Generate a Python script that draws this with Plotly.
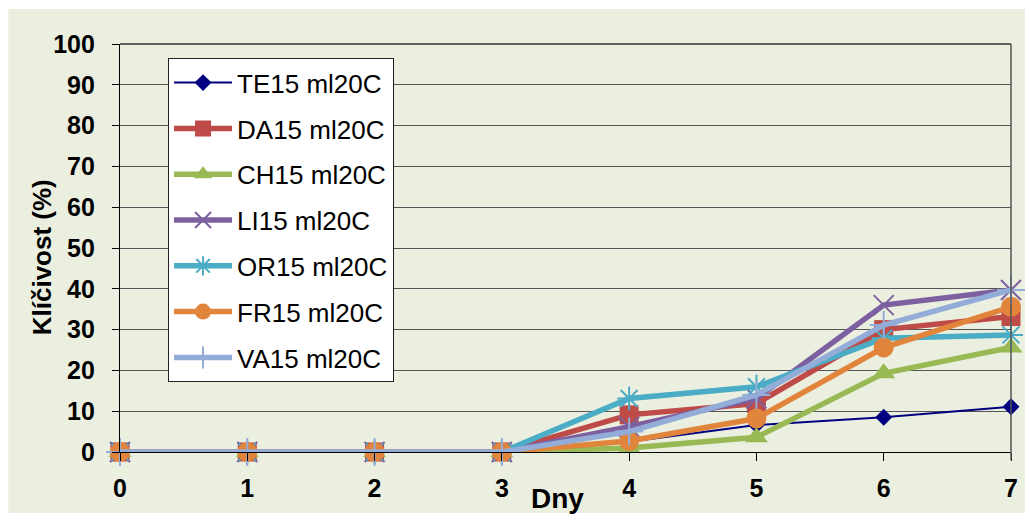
import plotly.graph_objects as go

days = [0, 1, 2, 3, 4, 5, 6, 7]
series_names = ["TE15 ml20C", "DA15 ml20C", "CH15 ml20C", "LI15 ml20C",
                "OR15 ml20C", "FR15 ml20C", "VA15 ml20C"]
te = [0, 0, 0, 0, 2.5, 6.6, 8.5, 11.1]
da = [0, 0, 0, 0, 9.1, 11.9, 30.0, 33.2]
ch = [0, 0, 0, 0, 1.0, 3.6, 19.3, 25.6]
li = [0, 0, 0, 0, 6.2, 13.1, 36.0, 39.7]
orr = [0, 0, 0, 0, 13.1, 16.0, 27.9, 28.7]
fr = [0, 0, 0, 0, 2.7, 8.2, 25.6, 35.6]
va = [0, 0, 0, 0, 5.0, 14.0, 31.1, 39.7]
y_ticks = [0, 10, 20, 30, 40, 50, 60, 70, 80, 90, 100]

values = [te, da, ch, li, orr, fr, va]
colors = ["#000080", "#BE4B48", "#98B954", "#7D60A0", "#4BACC6", "#E2853C", "#93ADD8"]
symbols = ["diamond", "square", "triangle-up", "x-thin-open", "asterisk-open", "circle", "cross-thin-open"]
msizes = [13, 19, 20, 20, 20, 20, 20]
lwidths = [2, 5.5, 5.5, 5.5, 5.5, 5.5, 5.5]

FONT = "Liberation Sans, Arial, sans-serif"

fig = go.Figure()
for i, (name, vals) in enumerate(zip(series_names, values)):
    open_sym = symbols[i].endswith("open")
    fig.add_trace(go.Scatter(
        x=days, y=vals, name=name, mode="lines+markers",
        legendgroup=f"g{i}", cliponaxis=False,
        line=dict(color=colors[i], width=lwidths[i]),
        marker=dict(symbol=symbols[i], size=msizes[i], color=colors[i],
                    line=dict(color=colors[i], width=2 if open_sym else 0)),
    ))

fig.update_layout(
    width=1030, height=521,
    margin=dict(l=120, r=16, t=44, b=69),
    paper_bgcolor="white",
    plot_bgcolor="#EBEFDF",
    font=dict(family=FONT, color="black"),
    shapes=[dict(type="rect", xref="paper", yref="paper",
                 x0=-112/894, x1=1+14/894, y0=-61/408, y1=1+35/408,
                 fillcolor="#EBEFDF", line=dict(width=0), layer="below")],
    legend=dict(x=48/894, y=(452-58)/408, xanchor="left", yanchor="top",
                bgcolor="white", bordercolor="#222222", borderwidth=1.2,
                font=dict(size=26, family=FONT),
                traceorder="grouped", tracegroupgap=9, itemwidth=58),
    xaxis=dict(range=[0, 7], tickvals=days, ticktext=[f"<b>{d}</b>" for d in days],
               showgrid=False, zeroline=False, showline=True, linecolor="black",
               linewidth=1.2, ticks="outside", ticklen=8, tickcolor="black",
               ticklabelstandoff=6,
               tickfont=dict(size=25, family=FONT)),
    yaxis=dict(range=[0, 100], tickvals=y_ticks, ticktext=[f"<b>{t}</b>" for t in y_ticks],
               showgrid=True, gridcolor="#555555", gridwidth=1,
               zeroline=False, showline=True, linecolor="black", linewidth=1.2,
               ticks="outside", ticklen=7, tickcolor="black",
               ticklabelstandoff=12,
               tickfont=dict(size=25, family=FONT)),
    annotations=[
        dict(text="<b>Dny</b>", xref="paper", yref="paper",
             x=(559-120)/894, y=-(498-452)/408, showarrow=False,
             font=dict(size=28), xanchor="center", yanchor="middle"),
        dict(text="<b>Klíčivost (%)</b>", xref="paper", yref="paper",
             x=-(120-42)/894, y=(452-257)/408, showarrow=False, textangle=-90,
             font=dict(size=26), xanchor="center", yanchor="middle"),
    ],
)
fig.add_shape(type="line", xref="paper", yref="paper", x0=1, x1=1, y0=-8/408, y1=1,
              line=dict(color="#555555", width=1.5))
fig.add_shape(type="line", xref="paper", yref="paper", x0=0, x1=1, y0=1, y1=1,
              line=dict(color="#333333", width=1.5))
fig.write_html("out.html")
